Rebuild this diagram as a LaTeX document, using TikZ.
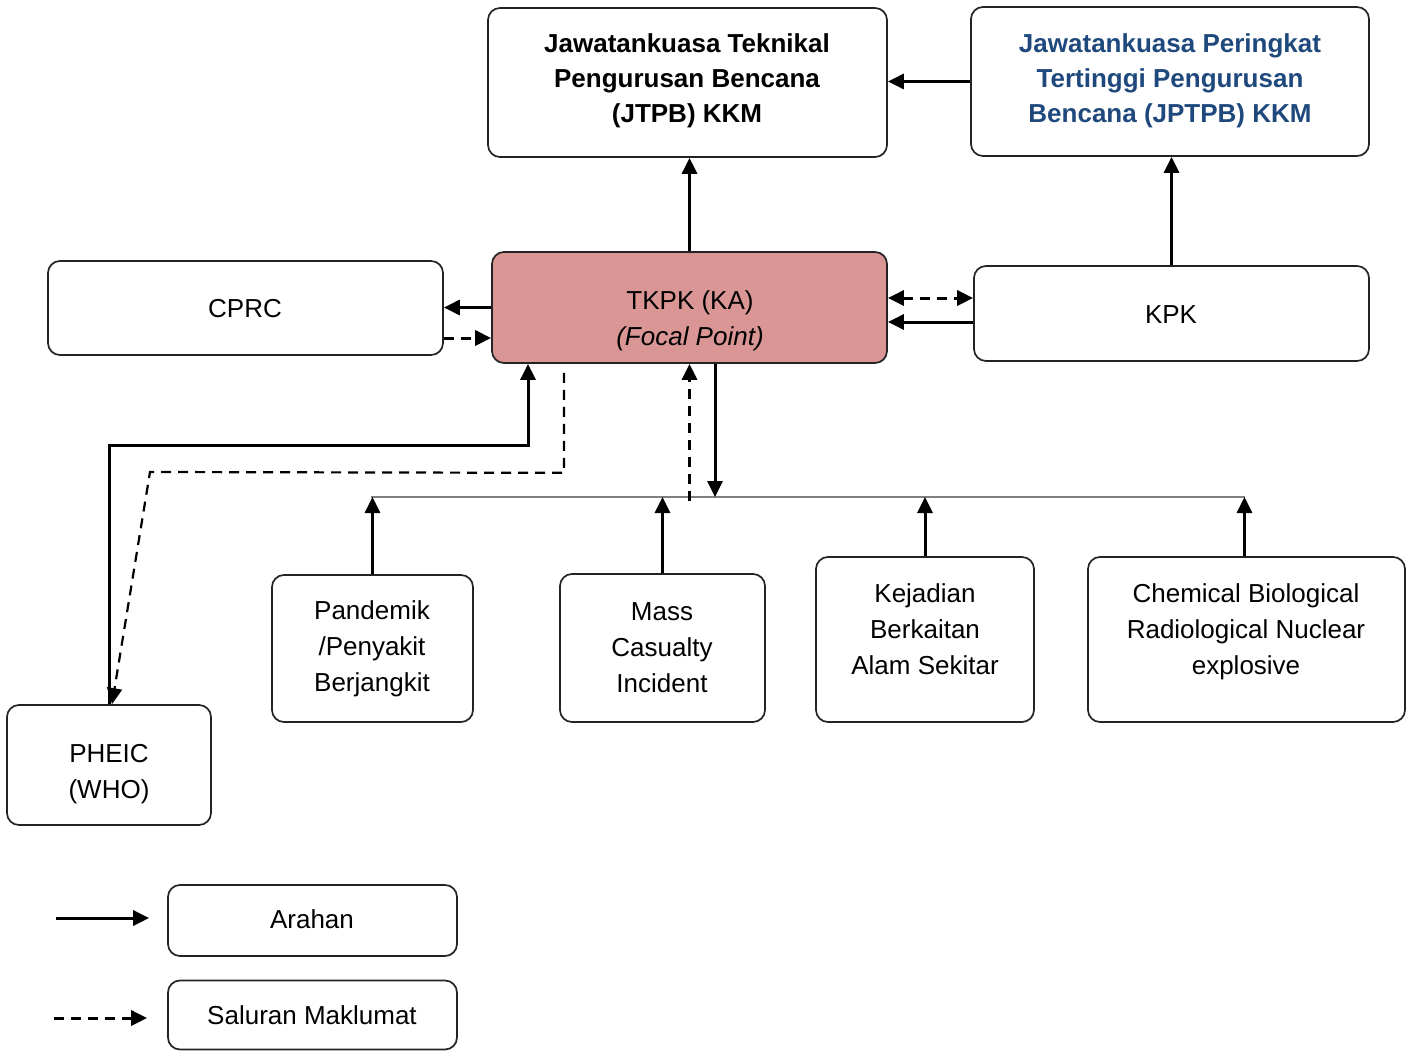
\documentclass[tikz,border=0pt]{standalone}
\usepackage{fontspec}
\setmainfont{Liberation Sans}
\usetikzlibrary{arrows.meta,calc}
\definecolor{focal}{RGB}{217,150,148}
\definecolor{navy}{RGB}{31,73,125}
\definecolor{edge}{RGB}{35,35,35}
\definecolor{busgray}{RGB}{128,128,128}
\begin{document}
\begin{tikzpicture}[x=1pt,y=-1pt,
  box/.style={draw=edge, line width=1.7pt, rounded corners=12pt, inner sep=0pt},
  lbl/.style={align=center, inner sep=0pt, font=\fontsize{26}{36}\selectfont},
  hdr/.style={lbl, font=\fontsize{26}{35}\selectfont\bfseries},
  arrow/.style={draw=black, line width=3pt, -{Triangle[length=16pt,width=15pt]}},
  info/.style={arrow, dash pattern=on 10pt off 7pt},
  thininfo/.style={info, line width=2.2pt},
  bus/.style={draw=busgray, line width=2.2pt}]
\useasboundingbox (0,0) rectangle (1413,1051);

% boxes
\node[box, minimum width=399pt, minimum height=149pt] (jtpb) at (687.5,82.5) {};
\node[box, minimum width=398pt, minimum height=149pt] (jptpb) at (1170,81.5) {};
\node[box, minimum width=395pt, minimum height=94pt] (cprc) at (245.5,308) {};
\node[box, fill=focal, minimum width=395pt, minimum height=111pt] (tkpk) at (689.5,307.5) {};
\node[box, minimum width=395pt, minimum height=95pt] (kpk) at (1171.5,313.5) {};
\node[box, minimum width=201pt, minimum height=147pt] (pand) at (372.5,648.5) {};
\node[box, minimum width=205pt, minimum height=148pt] (mass) at (662.5,648) {};
\node[box, minimum width=218pt, minimum height=165pt] (kej) at (925,639.5) {};
\node[box, minimum width=317pt, minimum height=165pt] (cbrn) at (1246.5,639.5) {};
\node[box, minimum width=204pt, minimum height=120pt] (pheic) at (109,765) {};
\node[box, minimum width=289pt, minimum height=71pt] (arahan) at (312.5,920.5) {};
\node[box, minimum width=289pt, minimum height=69pt] (saluran) at (312.5,1015) {};

% labels
\node[hdr] (jtpb-t) at (687,81) {Jawatankuasa Teknikal\\Pengurusan Bencana\\(JTPB) KKM};
\node[hdr, text=navy] (jptpb-t) at (1170,81) {Jawatankuasa Peringkat\\Tertinggi Pengurusan\\Bencana (JPTPB) KKM};
\node[lbl] (cprc-t) at (245,309) {CPRC};
\node[lbl] (tkpk-t) at (690,321) {TKPK (KA)\\\textit{(Focal Point)}};
\node[lbl] (kpk-t) at (1171,315) {KPK};
\node[lbl] (pand-t) at (372,649) {Pandemik\\/Penyakit\\Berjangkit};
\node[lbl] (mass-t) at (662,647.5) {Mass\\Casualty\\Incident};
\node[lbl] (kej-t) at (925,629.5) {Kejadian\\Berkaitan\\Alam Sekitar};
\node[lbl] (cbrn-t) at (1246,632) {Chemical Biological\\Radiological Nuclear\\explosive};
\node[lbl] (pheic-t) at (109,774) {PHEIC\\(WHO)};
\node[lbl] (arahan-t) at (312,919) {Arahan};
\node[lbl] (saluran-t) at (312,1015) {Saluran Maklumat};

% upper level
\draw[arrow] (jptpb.west) -- (jptpb.west -| jtpb.east);
\draw[arrow] (tkpk.north) -- (tkpk.north |- jtpb.south);
\draw[arrow] (kpk.north) -- (kpk.north |- jptpb.south);

% focal point links
\draw[arrow] (tkpk.west) -- (tkpk.west -| cprc.east);
\draw[info] ($(cprc.east)+(0,30)$) -- ($(tkpk.west)+(0,30.5)$);
\draw[info, {Triangle[length=16pt,width=15pt]}-{Triangle[length=16pt,width=15pt]}]
  ($(tkpk.east)+(0,-9.5)$) -- ($(kpk.west)+(0,-15.5)$);
\draw[arrow] ($(kpk.west)+(0,8.5)$) -- ($(tkpk.east)+(0,14.5)$);

% incident bus
\coordinate (bus) at (0,497);
\draw[bus] ($(pand.north |- bus)+(-2,0)$) -- ($(cbrn.north |- bus)+(-2,0)$);
\draw[arrow] (pand.north) -- (pand.north |- bus);
\draw[arrow] (mass.north) -- (mass.north |- bus);
\draw[arrow] (kej.north) -- (kej.north |- bus);
\draw[arrow] ($(cbrn.north)+(-2,0)$) -- ($(cbrn.north |- bus)+(-2,0)$);
\draw[arrow] ($(tkpk.south)+(25.5,0)$) -- ($(tkpk.south |- bus)+(25.5,0)$);
\draw[info] ($(tkpk.south |- bus)+(0,4)$) -- (tkpk.south);

% international reporting
\draw[arrow] (pheic.north) |- ($(tkpk.south)+(-161.5,82)$) -- ($(tkpk.south)+(-161.5,0)$);
\draw[thininfo] ($(tkpk.south)+(-125.5,9)$) -- ($(tkpk.south)+(-125.5,109)$)
  -- (150,472) -- ($(pheic.north)+(3,0)$);

% legend
\draw[arrow] ($(arahan.west)+(-111,-2.5)$) -- ($(arahan.west)+(-18,-2.5)$);
\draw[info] ($(saluran.west)+(-113,3)$) -- ($(saluran.west)+(-20,3)$);
\end{tikzpicture}
\end{document}
